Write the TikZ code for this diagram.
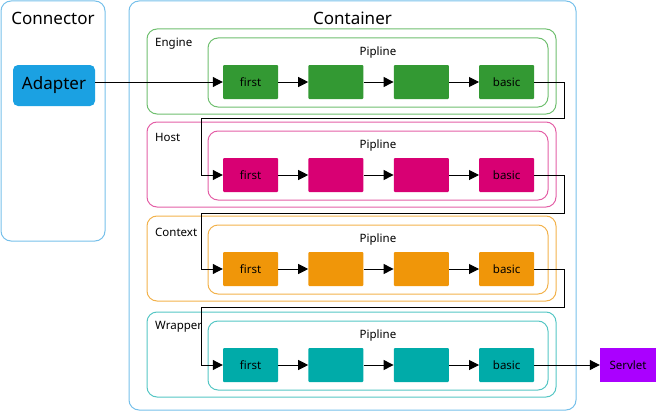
\documentclass[tikz,border=0pt]{standalone}
\usepackage{fontspec}
\setmainfont{Noto Sans}
\usetikzlibrary{positioning, arrows.meta}

\definecolor{azul}{HTML}{1BA1E2}
\definecolor{azulborda}{HTML}{76C0EA}
\definecolor{verde}{HTML}{339933}
\definecolor{verdeborda}{HTML}{6FBF6F}
\definecolor{rosa}{HTML}{D80073}
\definecolor{rosaborda}{HTML}{E35FA6}
\definecolor{laranja}{HTML}{F09609}
\definecolor{laranjaborda}{HTML}{F2B24C}
\definecolor{ciano}{HTML}{00ABA9}
\definecolor{cianoborda}{HTML}{55C6C4}
\definecolor{roxo}{HTML}{AA00FF}

\begin{document}
\begin{tikzpicture}[
    x=1pt, y=-1pt,        % Coordenadas em pixels, y para baixo
    >={Triangle[length=10pt,width=10pt]}, % Estilo da seta
    font=\fontsize{11.5}{13}\selectfont,
    node distance=30pt,   % Distância entre as válvulas
    caixa/.style={draw=azulborda, line width=1pt, rounded corners=10pt, inner sep=0pt},
    grupo/.style={draw=#1, line width=1pt, rounded corners=10pt, minimum width=409pt, minimum height=85pt, inner sep=0pt},
    pipe/.style={draw=#1, line width=1pt, rounded corners=10pt, minimum width=340pt, minimum height=69pt, inner sep=0pt},
    valvula/.style={fill=#1, minimum width=55pt, minimum height=34pt, inner sep=0pt, rounded corners=1pt},
    titulo/.style={font=\fontsize{17}{20}\selectfont},
    rotulo/.style={anchor=west, inner sep=0pt},
    fluxo/.style={->, line width=1pt, black}
  ]
  \useasboundingbox (0,0) rectangle (658,412);

  % --- CAIXAS EXTERNAS ---
  \node[caixa, minimum width=104pt, minimum height=240pt] (connector) at (53,121) {};
  \node[titulo] (connTxt) at (53,18) {Connector};
  \node[fill=azul, rounded corners=5pt, minimum width=82pt, minimum height=41pt, titulo] (adapter) at (54,85.5) {Adapter};

  \node[caixa, minimum width=447pt, minimum height=409pt] (container) at (352.5,205.5) {};
  \node[titulo] (contTxt) at (352.5,18) {Container};

  % --- ENGINE ---
  \node[grupo=verdeborda] (engine) at (351.5,71.5) {};
  \node[rotulo] (engineTxt) at (155,44) {Engine};
  \node[pipe=verdeborda] (pEngine) at (378,72.5) {};
  \node (pEngineTxt) at (378,53) {Pipline};
  \node[valvula=verde] (e1) at (250.5,82) {first};
  \node[valvula=verde, right=of e1] (e2) {};
  \node[valvula=verde, right=of e2] (e3) {};
  \node[valvula=verde, right=of e3] (e4) {basic};

  % --- HOST ---
  \node[grupo=rosaborda] (host) at (351.5,164.5) {};
  \node[rotulo] (hostTxt) at (155,137) {Host};
  \node[pipe=rosaborda] (pHost) at (378,165.5) {};
  \node (pHostTxt) at (378,146) {Pipline};
  \node[valvula=rosa] (h1) at (250.5,175) {first};
  \node[valvula=rosa, right=of h1] (h2) {};
  \node[valvula=rosa, right=of h2] (h3) {};
  \node[valvula=rosa, right=of h3] (h4) {basic};

  % --- CONTEXT ---
  \node[grupo=laranjaborda] (context) at (351.5,258.5) {};
  \node[rotulo] (contextTxt) at (155,232) {Context};
  \node[pipe=laranjaborda] (pContext) at (378,259.5) {};
  \node (pContextTxt) at (378,240) {Pipline};
  \node[valvula=laranja] (c1) at (250.5,269) {first};
  \node[valvula=laranja, right=of c1] (c2) {};
  \node[valvula=laranja, right=of c2] (c3) {};
  \node[valvula=laranja, right=of c3] (c4) {basic};

  % --- WRAPPER ---
  \node[grupo=cianoborda] (wrapper) at (351.5,354.5) {};
  \node[rotulo] (wrapperTxt) at (155,327) {Wrapper};
  \node[pipe=cianoborda] (pWrapper) at (378,355.5) {};
  \node (pWrapperTxt) at (378,336) {Pipline};
  \node[valvula=ciano] (w1) at (250.5,365) {first};
  \node[valvula=ciano, right=of w1] (w2) {};
  \node[valvula=ciano, right=of w2] (w3) {};
  \node[valvula=ciano, right=of w3] (w4) {basic};

  \node[fill=roxo, minimum width=56pt, minimum height=34pt, inner sep=0pt] (servlet) at (628,365) {Servlet};

  % --- PONTOS DE DOBRA ---
  \coordinate (d1) at (564,118);
  \coordinate (g1) at (201,118);
  \coordinate (d2) at (564,213);
  \coordinate (g2) at (201,213);
  \coordinate (d3) at (564,307);
  \coordinate (g3) at (201,307);

  % --- FLUXO ---
  \draw[fluxo] (adapter.east |- e1.west) -- (e1.west);
  \draw[fluxo] (e1) -- (e2);
  \draw[fluxo] (e2) -- (e3);
  \draw[fluxo] (e3) -- (e4);
  \draw[fluxo] (e4.east) -| (d1) -- (g1) |- (h1.west);

  \draw[fluxo] (h1) -- (h2);
  \draw[fluxo] (h2) -- (h3);
  \draw[fluxo] (h3) -- (h4);
  \draw[fluxo] (h4.east) -| (d2) -- (g2) |- (c1.west);

  \draw[fluxo] (c1) -- (c2);
  \draw[fluxo] (c2) -- (c3);
  \draw[fluxo] (c3) -- (c4);
  \draw[fluxo] (c4.east) -| (d3) -- (g3) |- (w1.west);

  \draw[fluxo] (w1) -- (w2);
  \draw[fluxo] (w2) -- (w3);
  \draw[fluxo] (w3) -- (w4);
  \draw[fluxo] (w4) -- (servlet);

\end{tikzpicture}
\end{document}
